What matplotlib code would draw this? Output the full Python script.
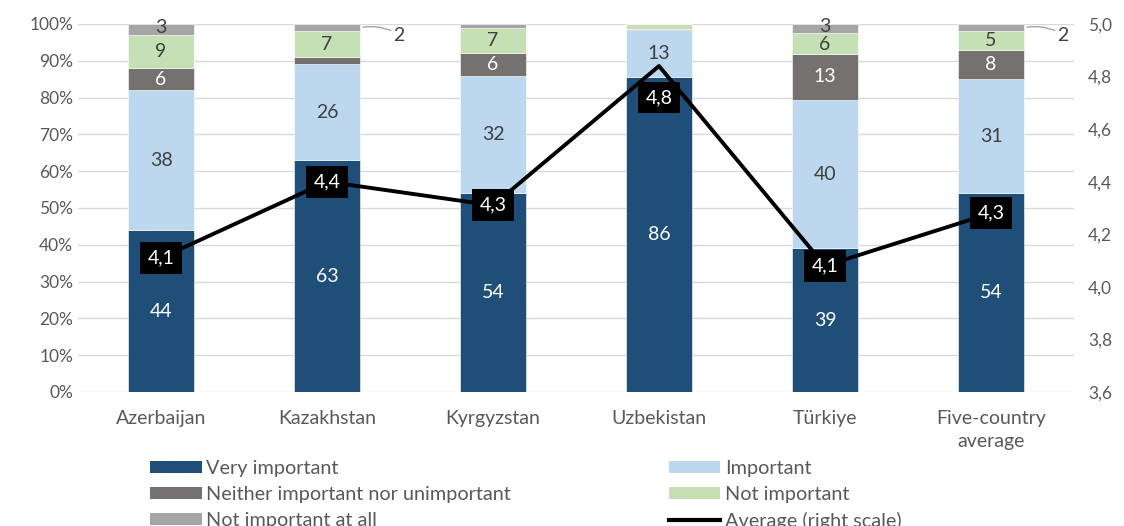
import numpy as np
import matplotlib
matplotlib.use("Agg")
import matplotlib.pyplot as plt
from matplotlib.patches import Patch
from matplotlib.lines import Line2D
from matplotlib.ticker import FuncFormatter

plt.rcParams["font.family"] = ["Lato", "DejaVu Sans"]

# --------- Datos ---------
countries = ["Azerbaijan", "Kazakhstan", "Kyrgyzstan", "Uzbekistan", "Türkiye", "Five-country\naverage"]
very_important = [44, 63, 54, 85.7, 39.1, 54]
important = [38, 26, 32, 12.6, 40.2, 31]
neither = [6, 2, 6, 0.4, 12.6, 8]
not_important = [9, 7, 7, 1.3, 5.7, 5]
not_at_all = [3, 2, 1, 0, 2.4, 2]
average = [4.11, 4.40, 4.31, 4.84, 4.08, 4.28]

# etiquetas visibles (None = sin etiqueta)
lbl_very = ["44", "63", "54", "86", "39", "54"]
lbl_imp = ["38", "26", "32", "13", "40", "31"]
lbl_neither = ["6", None, "6", None, "13", "8"]
lbl_notimp = ["9", "7", "7", None, "6", "5"]
lbl_notall = ["3", "2", None, None, "3", "2"]
lbl_avg = ["4,1", "4,4", "4,3", "4,8", "4,1", "4,3"]

series_names = ["Very important", "Important", "Neither important nor unimportant",
                "Not important", "Not important at all"]
colors = ["#1F4E79", "#BDD7EE", "#767171", "#C5E0B4", "#A5A5A5"]
text_colors = ["white", "#404040", "white", "#404040", "#404040"]
grey_txt = "#595959"

# --------- Figura ---------
fig = plt.figure(figsize=(11.24, 5.26), dpi=100)
ax = fig.add_axes([0.0694, 0.2548, 0.8861, 0.6996])
x = np.arange(len(countries))
width = 0.4

series = [very_important, important, neither, not_important, not_at_all]
labels = [lbl_very, lbl_imp, lbl_neither, lbl_notimp, lbl_notall]
bottom = np.zeros(len(countries))
for vals, col, tcol, lbls in zip(series, colors, text_colors, labels):
    vals = np.array(vals, dtype=float)
    ax.bar(x, vals, width, bottom=bottom, color=col, edgecolor="white", linewidth=0.4, zorder=2)
    for i, (v, b, l) in enumerate(zip(vals, bottom, lbls)):
        if l is None:
            continue
        yc = b + v / 2
        if l == "2" and col == "#A5A5A5":
            # etiqueta fuera de la barra con línea guía
            ax.annotate(l, xy=(x[i] + width / 2, yc), xytext=(x[i] + width / 2 + 0.2, yc - 2),
                        ha="left", va="center", fontsize=14, color="#404040",
                        arrowprops=dict(arrowstyle="-", color="#A5A5A5", lw=1,
                                        connectionstyle="arc3,rad=0.2", shrinkA=0, shrinkB=2))
            continue
        if col == "#A5A5A5":
            yc = b + v / 2 + 0.6
        if col == "#C5E0B4" and countries[i] == "Türkiye":
            yc = b + v / 2 - 0.4
        ax.text(x[i], yc, l, ha="center", va="center", fontsize=14, color=tcol, zorder=3)
    bottom += vals

ax.set_ylim(0, 100)
ax.set_xlim(-0.5, len(countries) - 0.5)
ax.set_yticks(np.arange(0, 101, 10))
ax.yaxis.set_major_formatter(FuncFormatter(lambda v, p: f"{int(v)}%"))
ax.set_xticks(x)
ax.tick_params(axis="both", length=0, labelsize=12.5, colors=grey_txt)
ax.set_xticklabels(countries, fontsize=14, color=grey_txt, linespacing=1.4)
ax.tick_params(axis="x", pad=13)
ax.grid(axis="y", color="#D9D9D9", linewidth=1, zorder=0)
ax.set_axisbelow(True)
for s in ax.spines.values():
    s.set_visible(False)

# eje derecho: promedio
ax2 = ax.twinx()
ax2.set_ylim(3.6, 5.0)
ax2.set_yticks(np.arange(3.6, 5.01, 0.2))
ax2.yaxis.set_major_formatter(FuncFormatter(lambda v, p: f"{v:.1f}".replace(".", ",")))
ax2.tick_params(axis="y", length=0, labelsize=12.5, colors=grey_txt, pad=10)
for s in ax2.spines.values():
    s.set_visible(False)
ax2.plot(x, average, color="black", linewidth=2.8, zorder=4)
for i, (v, l) in enumerate(zip(average, lbl_avg)):
    dy = -0.12 if i == 3 else 0
    ax2.text(x[i], v + dy, l, ha="center", va="center", fontsize=14, color="white", zorder=5,
             bbox=dict(boxstyle="square,pad=0.38", facecolor="black", edgecolor="none"))

# --------- Leyenda ---------
h = [Patch(facecolor=c) for c in colors]
avg_h = Line2D([0], [0], color="black", linewidth=3)
leg_kw = dict(frameon=False, fontsize=14.3, handlelength=2.6, handleheight=0.55,
              handletextpad=0.25, labelspacing=0.45, borderpad=0, labelcolor=grey_txt)
fig.legend([h[0], h[2], h[4]], [series_names[0], series_names[2], series_names[4]],
           loc="upper left", bbox_to_anchor=(0.1245, 0.1446), **leg_kw)
fig.legend([h[1], h[3], avg_h], [series_names[1], series_names[3], "Average (right scale)"],
           loc="upper left", bbox_to_anchor=(0.586, 0.1446), **leg_kw)

fig.savefig("out.png", dpi=100)
